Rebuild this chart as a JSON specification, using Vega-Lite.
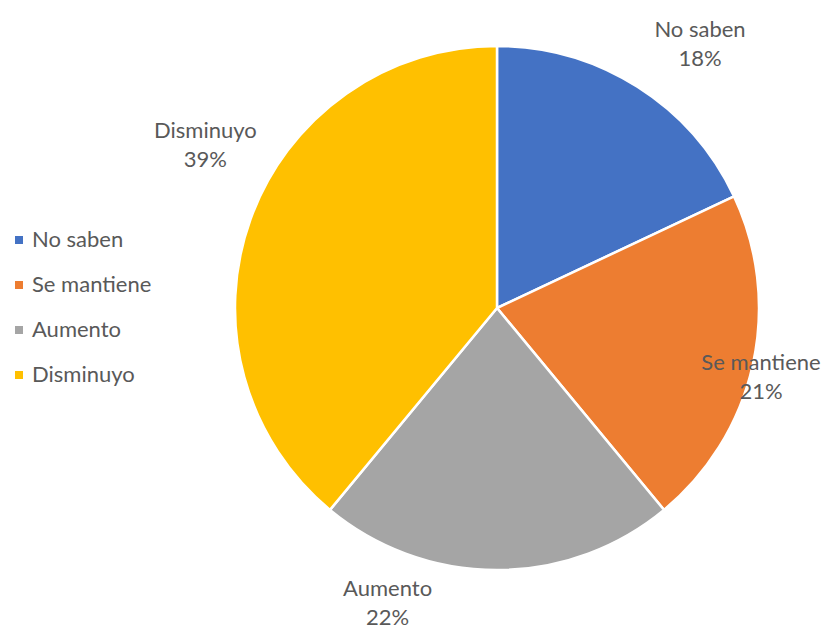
{
  "$schema": "https://vega.github.io/schema/vega-lite/v6.json",
  "width": 524,
  "height": 524,
  "autosize": {"type": "none"},
  "padding": {"left": 235, "top": 46, "right": 68, "bottom": 60},
  "background": "white",
  "config": {"view": {"stroke": null}, "text": {"font": "Lato", "fontSize": 22, "color": "#595959"}},
  "data": {
    "values": [
      {"categoria": "No saben", "pct": 0.18, "orden": 1},
      {"categoria": "Se mantiene", "pct": 0.21, "orden": 2},
      {"categoria": "Aumento", "pct": 0.22, "orden": 3},
      {"categoria": "Disminuyo", "pct": 0.39, "orden": 4}
    ]
  },
  "encoding": {
    "theta": {"field": "pct", "type": "quantitative", "stack": true},
    "order": {"field": "orden", "type": "quantitative"}
  },
  "layer": [
    {
      "mark": {"type": "arc", "outerRadius": 262, "stroke": "white", "strokeWidth": 2.5},
      "encoding": {
        "color": {
          "field": "categoria",
          "type": "nominal",
          "sort": ["No saben", "Se mantiene", "Aumento", "Disminuyo"],
          "scale": {"domain": ["No saben", "Se mantiene", "Aumento", "Disminuyo"], "range": ["#4472C4", "#ED7D31", "#A5A5A5", "#FFC000"]},
          "legend": {
            "title": null,
            "orient": "none",
            "legendX": -227,
            "legendY": 183,
            "padding": 0,
            "symbolType": "square",
            "symbolSize": 64,
            "symbolStrokeWidth": 0,
            "labelFont": "Lato",
            "labelFontSize": 22,
            "labelColor": "#595959",
            "labelOffset": 2,
            "rowPadding": 23
          }
        }
      }
    },
    {
      "mark": {"type": "text", "radius": 332.6, "thetaOffset": 0.091, "dy": -14.5, "baseline": "middle"},
      "encoding": {"text": {"condition": {"test": "datum.categoria === 'No saben'", "field": "categoria"}, "value": ""}}
    },
    {
      "mark": {"type": "text", "radius": 332.6, "thetaOffset": 0.091, "dy": 14.5, "baseline": "middle"},
      "encoding": {"text": {"condition": {"test": "datum.categoria === 'No saben'", "field": "pct", "format": ".0%"}, "value": ""}}
    },
    {
      "mark": {"type": "text", "radius": 273, "thetaOffset": 0.0375, "dy": -14.5, "baseline": "middle"},
      "encoding": {"text": {"condition": {"test": "datum.categoria === 'Se mantiene'", "field": "categoria"}, "value": ""}}
    },
    {
      "mark": {"type": "text", "radius": 273, "thetaOffset": 0.0375, "dy": 14.5, "baseline": "middle"},
      "encoding": {"text": {"condition": {"test": "datum.categoria === 'Se mantiene'", "field": "pct", "format": ".0%"}, "value": ""}}
    },
    {
      "mark": {"type": "text", "radius": 315.5, "thetaOffset": 0.354, "dy": -14.5, "baseline": "middle"},
      "encoding": {"text": {"condition": {"test": "datum.categoria === 'Aumento'", "field": "categoria"}, "value": ""}}
    },
    {
      "mark": {"type": "text", "radius": 315.5, "thetaOffset": 0.354, "dy": 14.5, "baseline": "middle"},
      "encoding": {"text": {"condition": {"test": "datum.categoria === 'Aumento'", "field": "pct", "format": ".0%"}, "value": ""}}
    },
    {
      "mark": {"type": "text", "radius": 333.7, "thetaOffset": 0.162, "dy": -14.5, "baseline": "middle"},
      "encoding": {"text": {"condition": {"test": "datum.categoria === 'Disminuyo'", "field": "categoria"}, "value": ""}}
    },
    {
      "mark": {"type": "text", "radius": 333.7, "thetaOffset": 0.162, "dy": 14.5, "baseline": "middle"},
      "encoding": {"text": {"condition": {"test": "datum.categoria === 'Disminuyo'", "field": "pct", "format": ".0%"}, "value": ""}}
    }
  ]
}
